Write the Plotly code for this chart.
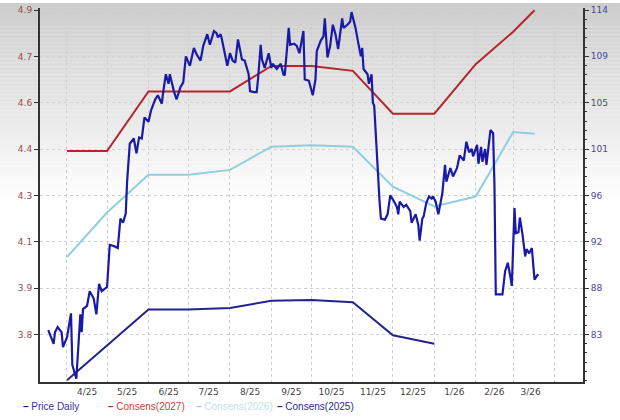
import plotly.graph_objects as go

# ---------------- data ----------------
price_dates = [
    "2025-03-18","2025-03-20","2025-03-22","2025-03-23","2025-03-25","2025-03-28","2025-03-29",
    "2025-04-01","2025-04-04","2025-04-05","2025-04-08","2025-04-11","2025-04-12","2025-04-13",
    "2025-04-16","2025-04-18","2025-04-21","2025-04-23","2025-04-25","2025-04-27","2025-05-01",
    "2025-05-03","2025-05-06","2025-05-09","2025-05-11","2025-05-13","2025-05-15","2025-05-16",
    "2025-05-17","2025-05-18","2025-05-21","2025-05-23","2025-05-25","2025-05-27","2025-05-29",
    "2025-06-01","2025-06-03","2025-06-06","2025-06-08","2025-06-11","2025-06-12","2025-06-14",
    "2025-06-16","2025-06-17","2025-06-20","2025-06-22","2025-06-25","2025-06-27","2025-06-29",
    "2025-07-02","2025-07-05","2025-07-07","2025-07-10","2025-07-12","2025-07-15","2025-07-17",
    "2025-07-20","2025-07-22","2025-07-23","2025-07-25","2025-07-26","2025-07-28","2025-07-30",
    "2025-08-01","2025-08-03","2025-08-05","2025-08-07","2025-08-10","2025-08-12","2025-08-15",
    "2025-08-16","2025-08-19","2025-08-21","2025-08-22","2025-08-24","2025-08-25","2025-08-27",
    "2025-08-30","2025-09-01","2025-09-02","2025-09-05","2025-09-08","2025-09-10","2025-09-11",
    "2025-09-14","2025-09-15","2025-09-18","2025-09-20","2025-09-22","2025-09-25","2025-09-26",
    "2025-09-29","2025-10-01","2025-10-02","2025-10-04","2025-10-05","2025-10-08","2025-10-10",
    "2025-10-11","2025-10-13","2025-10-15","2025-10-17","2025-10-19","2025-10-21","2025-10-24",
    "2025-10-25","2025-10-28","2025-10-30","2025-10-31","2025-11-03","2025-11-05","2025-11-07",
    "2025-11-08","2025-11-09","2025-11-12","2025-11-13","2025-11-15","2025-11-16","2025-11-17",
    "2025-11-18","2025-11-19","2025-11-20","2025-11-21","2025-11-22","2025-11-25","2025-11-27",
    "2025-11-29","2025-12-01","2025-12-04","2025-12-05","2025-12-06","2025-12-09","2025-12-11",
    "2025-12-14","2025-12-15","2025-12-18","2025-12-20","2025-12-21","2025-12-23","2025-12-24",
    "2025-12-26","2025-12-28","2025-12-30","2025-12-31","2026-01-02","2026-01-04","2026-01-05",
    "2026-01-07","2026-01-09","2026-01-10","2026-01-13","2026-01-15","2026-01-18","2026-01-20",
    "2026-01-23","2026-01-25","2026-01-27","2026-01-29","2026-01-30","2026-02-02","2026-02-03",
    "2026-02-05","2026-02-06","2026-02-08","2026-02-09","2026-02-11","2026-02-12","2026-02-14",
    "2026-02-15","2026-02-16","2026-02-19","2026-02-21","2026-02-23","2026-02-25","2026-02-27",
    "2026-02-28","2026-03-02","2026-03-03","2026-03-05","2026-03-06","2026-03-08","2026-03-10",
    "2026-03-11","2026-03-13","2026-03-15","2026-03-16","2026-03-17","2026-03-19","2026-03-20",
]
price_values = [
    83.7, 83.0, 82.4, 83.5, 84.0, 83.5, 82.1,
    83.0, 85.3, 80.4, 79.1, 85.2, 83.5, 85.7,
    86.0, 87.4, 86.7, 85.2, 88.1, 87.4, 87.8,
    91.8, 91.7, 91.5, 94.3, 93.9, 94.8, 97.8,
    99.7, 101.4, 101.9, 100.5, 102.0, 101.9, 103.9,
    103.5, 104.6, 105.6, 106.0, 105.2, 106.3, 108.0,
    107.1, 108.0, 106.4, 105.6, 106.8, 107.2, 109.7,
    108.8, 110.5, 109.9, 109.3, 110.7, 111.8, 110.8,
    112.1, 111.9, 111.5, 111.8, 111.3, 110.0, 108.8,
    110.0, 109.3, 109.1, 111.3, 109.4, 109.3, 108.0,
    106.4, 106.3, 106.3, 107.5, 110.8, 109.4, 108.6,
    110.0, 108.6, 109.0, 108.5, 109.0, 108.0, 107.9,
    112.4, 110.8, 110.9, 110.7, 110.0, 112.1, 107.5,
    107.4, 106.3, 106.0, 107.5, 110.2, 111.2, 111.6,
    113.3, 109.6, 110.7, 112.7, 111.8, 110.4, 113.3,
    112.4, 112.7, 113.0, 113.9, 112.4, 111.0, 109.7,
    110.5, 108.5, 108.0, 107.1, 108.0, 105.3, 105.0,
    102.8, 99.7, 97.2, 95.9, 94.3, 94.2, 94.7,
    96.5, 96.1, 95.4, 94.7, 95.9, 95.4, 95.6,
    95.0, 93.9, 94.7, 93.7, 92.2, 94.3, 94.5,
    95.8, 96.4, 96.2, 96.4, 95.9, 94.7, 95.3,
    96.7, 99.4, 97.8, 99.1, 98.3, 99.1, 100.3,
    99.8, 101.6, 100.6, 100.9, 100.2, 101.3, 99.5,
    101.1, 99.7, 100.9, 99.4, 101.9, 102.7, 102.4,
    97.5, 87.1, 87.1, 87.1, 89.3, 90.1, 88.7,
    87.9, 95.3, 92.9, 93.0, 94.4, 92.8, 90.7,
    91.4, 91.0, 91.5, 90.3, 88.5, 88.9, 89.0,
]

cons_dates = [
    "2025-04-01","2025-05-01","2025-06-01","2025-07-01","2025-08-01","2025-09-01","2025-10-01",
    "2025-11-01","2025-12-01","2026-01-01","2026-02-01","2026-03-01","2026-03-17",
]
cons_2027 = [4.413, 4.413, 4.619, 4.619, 4.619, 4.707, 4.707, 4.690, 4.542, 4.542, 4.713, 4.825, 4.899]
cons_2026 = [4.047, 4.201, 4.331, 4.331, 4.348, 4.428, 4.433, 4.428, 4.290, 4.222, 4.256, 4.479, 4.473]
cons_2025 = [3.622, 3.742, 3.866, 3.866, 3.871, 3.896, 3.899, 3.891, 3.777, 3.748]

left_tickvals = [3.78, 3.94, 4.10, 4.26, 4.42, 4.58, 4.74, 4.90]
left_ticktext = ["3.8", "3.9", "4.1", "4.3", "4.4", "4.6", "4.7", "4.9"]
right_tickvals = [83.3, 87.7, 92.1, 96.5, 100.9, 105.3, 109.7, 114.1]
right_ticktext = ["83", "88", "92", "96", "101", "105", "109", "114"]

month_starts = ["2025-04-01","2025-05-01","2025-06-01","2025-07-01","2025-08-01","2025-09-01",
                "2025-10-01","2025-11-01","2025-12-01","2026-01-01","2026-02-01","2026-03-01",
                "2026-04-01"]
label_dates = ["2025-04-16","2025-05-16","2025-06-16","2025-07-16","2025-08-16","2025-09-16",
               "2025-10-16","2025-11-16","2025-12-16","2026-01-16","2026-02-15","2026-03-14"]
label_text = ["4/25","5/25","6/25","7/25","8/25","9/25","10/25","11/25","12/25","1/26","2/26","3/26"]

series_names = ["Price Daily", "Consens(2027)", "Consens(2026)", "Consens(2025)"]
series_colors = ["#1a1aa6", "#b3262b", "#8fcfe0", "#23238c"]
legend_text_colors = ["#3434a0", "#d03c3c", "#bfe2ec", "#2a2a8c"]

# ---------------- figure ----------------
fig = go.Figure()
fig.add_trace(go.Scatter(x=cons_dates, y=cons_2027, mode="lines", name=series_names[1],
                         line=dict(color=series_colors[1], width=2), yaxis="y"))
fig.add_trace(go.Scatter(x=cons_dates, y=cons_2026, mode="lines", name=series_names[2],
                         line=dict(color=series_colors[2], width=2), yaxis="y"))
fig.add_trace(go.Scatter(x=cons_dates[:len(cons_2025)], y=cons_2025, mode="lines", name=series_names[3],
                         line=dict(color=series_colors[3], width=2), yaxis="y"))
fig.add_trace(go.Scatter(x=price_dates, y=price_values, mode="lines", name=series_names[0],
                         line=dict(color=series_colors[0], width=2.2), yaxis="y2"))

# gradient background (grey at top fading to white)
shapes = []
H = 377.0
n_bands = 50
for i in range(n_bands):
    y0px = i * 4
    y1px = y0px + 4
    frac = (y0px + 2) / 200.0
    g = int(round(204 + (255 - 204) * frac))
    shapes.append(dict(type="rect", xref="paper", yref="paper",
                       x0=-40 / 543, x1=580 / 543,
                       y0=(382 - y1px) / H, y1=(382 - y0px) / H,
                       fillcolor=f"rgb({g},{g},{g})", line=dict(width=0), layer="below"))

# legend as coloured text
annotations = []
leg_x = [21, 106, 194, 275]
for name, col, tcol, xp in zip(series_names, series_colors, legend_text_colors, leg_x):
    annotations.append(dict(
        x=(xp - 40) / 543, y=(382 - 407) / H, xref="paper", yref="paper",
        xanchor="left", yanchor="middle", showarrow=False,
        text=f"<span style='color:{col}'><b>–</b></span> {name}",
        font=dict(family="Liberation Sans, Arial, sans-serif", size=10, color=tcol)))

fig.update_layout(
    width=620, height=420,
    margin=dict(l=40, r=37, t=5, b=38),
    paper_bgcolor="white",
    plot_bgcolor="rgba(0,0,0,0)",
    showlegend=False,
    shapes=shapes,
    annotations=annotations,
    font=dict(family="DejaVu Sans, Verdana, sans-serif", size=9, color="#444"),
    xaxis=dict(
        type="date",
        range=["2025-03-11 19:00", "2026-04-22 07:00"],
        tickmode="array", tickvals=label_dates, ticktext=label_text,
        ticks="", showgrid=False,
        showline=True, linecolor="#333", linewidth=2,
        tickfont=dict(size=9, color="#444"),
        minor=dict(tickmode="array", tickvals=month_starts, showgrid=True,
                   gridcolor="#cfcfcf", griddash="dot", gridwidth=1, ticks=""),
        zeroline=False,
    ),
    yaxis=dict(
        range=[3.6156, 4.907],
        tickmode="array", tickvals=left_tickvals, ticktext=left_ticktext,
        ticks="outside", ticklen=4, tickcolor="#333", tickwidth=1,
        showline=True, linecolor="#333", linewidth=2,
        showgrid=True, gridcolor="#d2d2d2", griddash="dot", gridwidth=1,
        tickfont=dict(size=9, color="#9c4b4b"),
        zeroline=False,
    ),
    yaxis2=dict(
        overlaying="y", side="right",
        range=[78.78, 114.29],
        tickmode="array", tickvals=right_tickvals, ticktext=right_ticktext,
        ticks="outside", ticklen=4, tickcolor="#333", tickwidth=1,
        showline=True, linecolor="#333", linewidth=2,
        showgrid=False,
        tickfont=dict(size=9, color="#4b45a0"),
        minor=dict(tickmode="linear", tick0=83.3, dtick=0.88, ticks="outside",
                   ticklen=2, tickcolor="#333", showgrid=False),
        zeroline=False,
    ),
)

fig.write_html("out.html", config={"displayModeBar": False},
               post_script="document.body.style.margin='0';")
